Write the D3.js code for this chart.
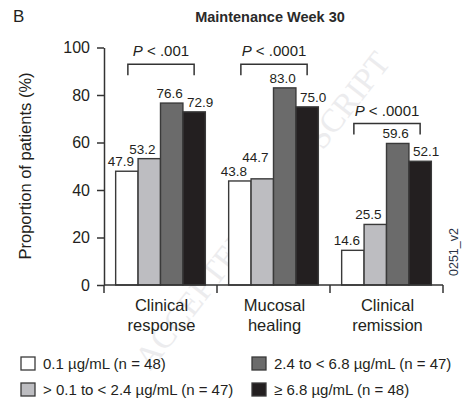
<!DOCTYPE html>
<html>
<head>
<meta charset="utf-8">
<script src="https://cdn.jsdelivr.net/npm/d3@7"></script>
<style>
  html, body { margin: 0; padding: 0; background: #fff; }
  svg { display: block; font-family: Arial, "Liberation Sans", Helvetica, sans-serif; }
</style>
</head>
<body>
<svg id="chart" width="462" height="398"></svg>
<script>
// Outcome categories (x axis)
const categories = ["Clinical response", "Mucosal healing", "Clinical remission"];
const categoryLines = [["Clinical", "response"], ["Mucosal", "healing"], ["Clinical", "remission"]];

// Trough concentration quartiles (series)
const seriesNames = [
  "0.1 µg/mL (n = 48)",
  "> 0.1 to < 2.4 µg/mL (n = 47)",
  "2.4 to < 6.8 µg/mL (n = 47)",
  "≥ 6.8 µg/mL (n = 48)"
];
const seriesColors = ["#ffffff", "#bdbdc1", "#6b6b6b", "#231f20"];

// Proportion of patients (%) per category, one array per series
const lowest    = [47.9, 43.8, 14.6];
const lowMid    = [53.2, 44.7, 25.5];
const highMid   = [76.6, 83.0, 59.6];
const highest   = [72.9, 75.0, 52.1];
const seriesValues = [lowest, lowMid, highMid, highest];

// Significance brackets: label text and bracket level (%)
const pCategories = ["Clinical response", "Mucosal healing", "Clinical remission"];
const pValues = [".001", ".0001", ".0001"];
const pLevels = [93, 93, 68];

const yTicks = [0, 20, 40, 60, 80, 100];

const ink = "#231f20";
const axisInk = "#333";

const svg = d3.select("#chart");

const y = d3.scaleLinear().domain([0, 100]).range([285, 47.5]);
const x0 = d3.scaleBand().domain(categories).range([104, 443]).padding(0);
const x1 = d3.scaleBand().domain(d3.range(seriesNames.length))
  .range([0, x0.bandwidth()]).paddingInner(0).paddingOuter(0.52);

// faint diagonal watermark behind the plot
svg.append("text")
  .attr("transform", "translate(262,210) rotate(-52)")
  .attr("text-anchor", "middle")
  .attr("dy", "0.35em")
  .style("font-family", "'Liberation Serif', 'DejaVu Serif', serif")
  .style("font-size", "33px")
  .attr("fill", "#ececee")
  .text("ACCEPTED MANUSCRIPT");

// panel letter and title
svg.append("text").attr("x", 13).attr("y", 22)
  .style("font-size", "17px").attr("fill", ink).text("B");
svg.append("text").attr("x", 270).attr("y", 22).attr("text-anchor", "middle")
  .style("font-size", "14.5px").style("font-weight", "bold").attr("fill", "#2a2a2a")
  .text("Maintenance Week 30");

// y axis
const yAxis = svg.append("g")
  .attr("transform", "translate(104,0)")
  .call(d3.axisLeft(y).tickValues(yTicks).tickSize(7).tickSizeOuter(0).tickPadding(7));
yAxis.selectAll("path, line").attr("stroke", axisInk).attr("stroke-width", 1.5);
yAxis.selectAll("text").style("font-size", "16px").attr("fill", ink).attr("font-family", null);

svg.append("text")
  .attr("transform", "translate(31,166) rotate(-90)")
  .attr("text-anchor", "middle")
  .style("font-size", "16.5px").attr("fill", ink)
  .text("Proportion of patients (%)");

// bars
const barData = [];
categories.forEach((c, ci) => {
  seriesValues.forEach((vals, si) => barData.push({ c, ci, si, v: vals[ci] }));
});

svg.append("g").selectAll("rect").data(barData).join("rect")
  .attr("x", d => x0(d.c) + x1(d.si))
  .attr("y", d => y(d.v))
  .attr("width", x1.bandwidth())
  .attr("height", d => y(0) - y(d.v))
  .attr("fill", d => seriesColors[d.si])
  .attr("stroke", "#3a3a3a")
  .attr("stroke-width", 1.4);

// value labels, nudged sideways per series so neighbours don't collide
const labelDx = [-6, -7, -2, 6];
svg.append("g").selectAll("text").data(barData).join("text")
  .attr("x", d => x0(d.c) + x1(d.si) + x1.bandwidth() / 2 + labelDx[d.si])
  .attr("y", d => y(d.v) - 5 - (d.ci === 1 && d.si === 1 ? 12 : 0))
  .attr("text-anchor", "middle")
  .style("font-size", "13.5px").attr("fill", ink)
  .text(d => d.v.toFixed(1));

// x axis with separators at band edges
const xAxis = svg.append("g");
const y0 = y(0);
xAxis.append("line").attr("x1", 104).attr("x2", 443).attr("y1", y0).attr("y2", y0)
  .attr("stroke", axisInk).attr("stroke-width", 1.5);
const edges = [x0.range()[0]].concat(categories.map(c => x0(c) + x0.bandwidth()));
xAxis.selectAll("line.sep").data(edges).join("line").attr("class", "sep")
  .attr("x1", d => d).attr("x2", d => d).attr("y1", y0).attr("y2", y0 + 8)
  .attr("stroke", axisInk).attr("stroke-width", 1.5);

const catLabels = svg.append("g").selectAll("text").data(categories).join("text")
  .attr("text-anchor", "middle")
  .style("font-size", "16.5px").attr("fill", ink);
catLabels.each(function (c, i) {
  const t = d3.select(this);
  categoryLines[i].forEach((line, li) => {
    t.append("tspan").attr("x", x0(c) + x0.bandwidth() / 2 + 1)
      .attr("y", 311 + li * 19.5).text(line);
  });
});

// significance brackets (first bar centre to last bar centre)
pCategories.forEach((c, i) => {
  const xa = x0(c) + x1(0) + x1.bandwidth() / 2 + 1;
  const xb = x0(c) + x1(seriesNames.length - 1) + x1.bandwidth() / 2;
  const yl = y(pLevels[i]);
  svg.append("path")
    .attr("d", `M${xa},${yl + 11}V${yl}H${xb}V${yl + 11}`)
    .attr("fill", "none").attr("stroke", axisInk).attr("stroke-width", 1.5);
  const t = svg.append("text")
    .attr("x", (xa + xb) / 2).attr("y", yl - 8)
    .attr("text-anchor", "middle")
    .style("font-size", "15px").attr("fill", ink);
  t.append("tspan").style("font-style", "italic").text("P");
  t.append("tspan").text(" < " + pValues[i]);
});

// figure code on the right edge
svg.append("text")
  .attr("transform", "translate(458,252) rotate(-90)")
  .attr("text-anchor", "middle")
  .style("font-size", "12.5px").attr("fill", "#2b3345")
  .text("0251_v2");

// legend, two columns
const legendPos = [[21, 357], [21, 383], [252, 357], [252, 383]];
const legend = svg.append("g").selectAll("g").data(seriesNames).join("g")
  .attr("transform", (d, i) => `translate(${legendPos[i][0]},${legendPos[i][1]})`);
legend.append("rect").attr("width", 14).attr("height", 13)
  .attr("fill", (d, i) => seriesColors[i])
  .attr("stroke", "#3a3a3a").attr("stroke-width", 1.3);
legend.append("text").attr("x", 22).attr("y", 11.5)
  .style("font-size", "15px").attr("fill", ink)
  .text(d => d);
</script>
</body>
</html>
